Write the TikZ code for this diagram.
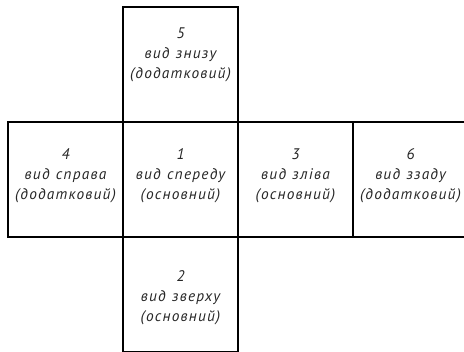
\documentclass[tikz,border=0pt]{standalone}
\usepackage{fontspec}
\newfontfamily\viewfont{PT Sans}[LetterSpace=8, WordSpace=1.2]
\usepackage{tikz}

\tikzset{
  viewbox/.style={draw, line width=1.1pt, minimum width=86.25pt, minimum height=86.25pt, inner sep=0pt},
  viewtext/.style={align=center, font=\viewfont\itshape\fontsize{11.5}{15}\selectfont, text=black!85}
}

\begin{document}
\begin{tikzpicture}[x=0.75pt, y=-0.75pt]
    \useasboundingbox (0,0) rectangle (464,352);

    % Boxes of the views
    \node[viewbox] (v5) at (180.5,64.5) {};
    \node[viewbox] (v4) at (65.5,179.5) {};
    \node[viewbox] (v1) at (180.5,179.5) {};
    \node[viewbox] (v3) at (295.5,179.5) {};
    \node[viewbox] (v6) at (410.5,179.5) {};
    \node[viewbox] (v2) at (180.5,294.5) {};

    % Labels
    \node[viewtext] (t5) at (180.5,55) {5\\вид знизу\\(додатковий)};
    \node[viewtext] (t4) at (65.5,176) {4\\вид справа\\(додатковий)};
    \node[viewtext] (t1) at (180.5,176) {1\\вид спереду\\(основний)};
    \node[viewtext] (t3) at (295.5,176) {3\\вид зліва\\(основний)};
    \node[viewtext] (t6) at (410.5,176) {6\\вид ззаду\\(додатковий)};
    \node[viewtext] (t2) at (180.5,298) {2\\вид зверху\\(основний)};
\end{tikzpicture}
\end{document}
